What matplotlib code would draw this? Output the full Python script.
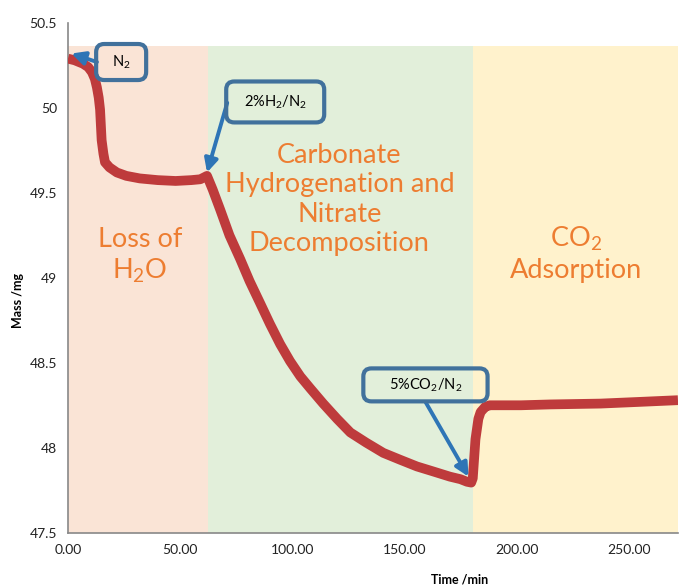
import matplotlib
matplotlib.use("Agg")
import matplotlib.pyplot as plt
from matplotlib.patches import FancyBboxPatch

plt.rcParams['font.family'] = ['Lato', 'DejaVu Sans']
plt.rcParams['mathtext.fontset'] = 'custom'
plt.rcParams['mathtext.rm'] = 'Lato'
plt.rcParams['mathtext.default'] = 'regular'

# TGA trace: time (min) vs sample mass (mg)
time_min = [0, 3, 6.7, 9, 10.7, 12, 12.9, 13.7, 14.3, 15, 15.8, 16.5, 18.5, 21.8, 26, 32, 40, 48, 55, 59, 62,
            64.5, 67.9, 72, 76.8, 81, 85.7, 90, 94.6, 99, 103.6, 108, 113.8, 120, 125.9, 133, 140.6,
            148, 155.6, 163, 170.3, 175, 177.9, 179.8,
            180.5, 181.7, 183, 184, 186, 188, 195, 202, 215, 237.5, 255, 272]
mass_mg = [50.29, 50.28, 50.26, 50.24, 50.21, 50.17, 50.12, 50.06, 49.99, 49.81, 49.73, 49.68, 49.65, 49.62,
           49.6, 49.585, 49.575, 49.57, 49.575, 49.58, 49.6,
           49.52, 49.40, 49.25, 49.11, 48.98, 48.85, 48.73, 48.61, 48.51, 48.42, 48.35, 48.26, 48.17, 48.09,
           48.03, 47.97, 47.93, 47.89, 47.86, 47.83, 47.815, 47.80, 47.795,
           47.82, 48.05, 48.17, 48.21, 48.24, 48.25, 48.25, 48.25, 48.255, 48.26, 48.27, 48.28]

# gas-atmosphere stages (start, end, colour, label)
stage_edges = [0, 62.5, 180.5, 272]
stage_colors = ['#FAE4D6', '#E2EFDA', '#FFF2CC']
stage_top = 50.365
stage_labels = ['Loss of\nH$_2$O',
                'Carbonate\nHydrogenation and\nNitrate\nDecomposition',
                'CO$_2$\nAdsorption']
stage_label_pos = [(32, 49.13), (121, 49.46), (226.5, 49.14)]

gas_labels = ['N$_2$', '2%H$_2$/N$_2$', '5%CO$_2$/N$_2$']
gas_box_pos = [(23.7, 50.27), (92.4, 50.035), (159.4, 48.37)]
gas_box_size = [(22.3, 0.212), (43.7, 0.241), (55.4, 0.194)]
gas_arrow_tail = [(12.9, 50.27), (71, 50.03), (159.4, 48.27)]
gas_arrow_tip = [(1.5, 50.32), (62, 49.62), (178.6, 47.83)]

fig = plt.figure(figsize=(6.8, 5.88), dpi=100)
ax = fig.add_axes([0.1, 0.094, 0.897, 0.867])

for i in range(3):
    ax.fill_between([stage_edges[i], stage_edges[i + 1]], 47.5, stage_top,
                    color=stage_colors[i], lw=0, zorder=0)

ax.plot(time_min, mass_mg, color='#BE3B3C', lw=7, solid_capstyle='butt',
        solid_joinstyle='round', zorder=3)

for lab, (x, y) in zip(stage_labels, stage_label_pos):
    ax.text(x, y, lab, color='#ED7D31', fontsize=19.5, ha='center', va='center',
            linespacing=1.22, zorder=4)

# mg-per-pixel over min-per-pixel, keeps the rounded corners circular
asp = (0.5 / 85) / (50 / 112)
for lab, (bx, by), (bw, bh), tail, tip in zip(gas_labels, gas_box_pos, gas_box_size,
                                              gas_arrow_tail, gas_arrow_tip):
    ax.annotate('', xy=tip, xytext=tail,
                arrowprops=dict(arrowstyle='-|>,head_length=0.8,head_width=0.4',
                                color='#2E75B6', lw=2.8, shrinkA=0, shrinkB=0),
                zorder=5)
    box = FancyBboxPatch((bx - bw / 2, by - bh / 2), bw, bh,
                         boxstyle='round,pad=0,rounding_size=3.6', mutation_aspect=asp,
                         fc='none', ec='#41719C', lw=3, zorder=6)
    ax.add_patch(box)
    ax.text(bx, by, lab, fontsize=10.5, ha='center', va='center', color='black', zorder=6)

ax.set_xlim(0, 272)
ax.set_ylim(47.5, 50.5)
ax.set_xticks([0, 50, 100, 150, 200, 250])
ax.set_xticklabels(['0.00', '50.00', '100.00', '150.00', '200.00', '250.00'])
ax.set_yticks([47.5, 48, 48.5, 49, 49.5, 50, 50.5])
ax.set_yticklabels(['47.5', '48', '48.5', '49', '49.5', '50', '50.5'])
ax.tick_params(length=0, labelsize=10, colors='#222222', pad=8)
for s in ['top', 'right']:
    ax.spines[s].set_visible(False)
for s in ['left', 'bottom']:
    ax.spines[s].set_color('#888888')
    ax.spines[s].set_linewidth(1.2)

fig.text(18 / 680, 1 - 300 / 588, 'Mass /mg', fontsize=9, fontweight='bold',
         rotation=90, ha='center', va='center')
fig.text(460 / 680, 1 - 579 / 588, 'Time /min', fontsize=9, fontweight='bold',
         ha='center', va='center')

fig.savefig('out.png', dpi=100)
